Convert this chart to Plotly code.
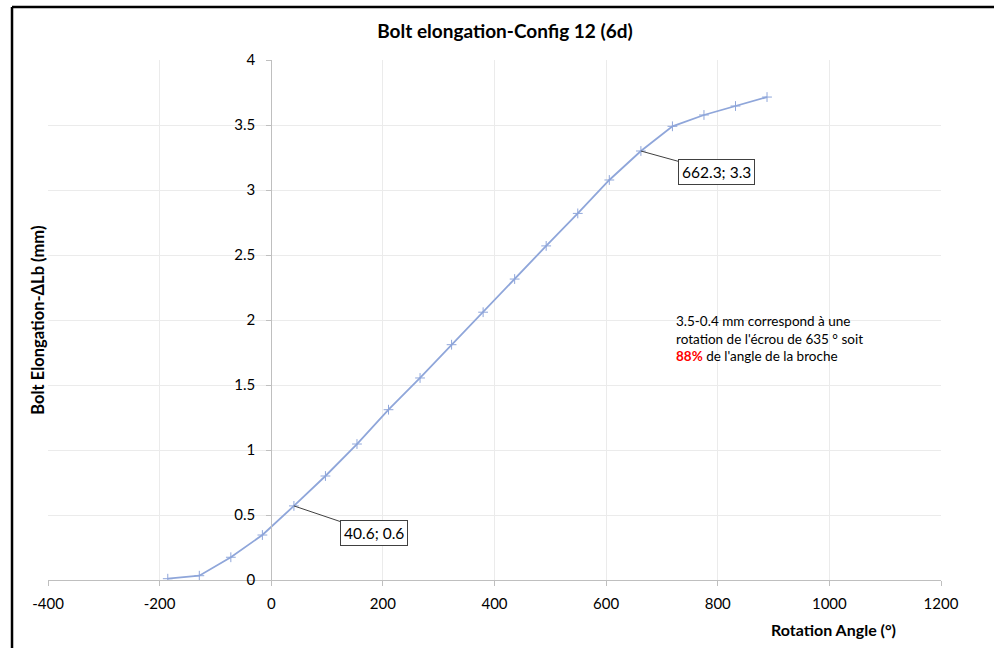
import plotly.graph_objects as go

# Data
rotation_angle = [-185.4, -128.9, -72.4, -15.9, 40.6, 97.1, 153.6, 210.1, 266.6, 323.1,
                  379.6, 436.1, 492.6, 549.2, 605.7, 662.3, 718.8, 775.3, 831.8, 888.3]
bolt_elongation = [0.01, 0.033, 0.175, 0.346, 0.57, 0.80, 1.046, 1.31, 1.554, 1.81,
                   2.06, 2.315, 2.57, 2.82, 3.077, 3.30, 3.49, 3.577, 3.646, 3.715]
x_ticks = [-400, -200, 0, 200, 400, 600, 800, 1000, 1200]
y_ticks = [0, 0.5, 1, 1.5, 2, 2.5, 3, 3.5, 4]
callouts = [(40.6, 0.57, "40.6; 0.6"), (662.3, 3.30, "662.3; 3.3")]

FONT = "Lato"
LINE_COLOR = "#8FA6DA"

fig = go.Figure()
fig.add_trace(go.Scatter(
    x=rotation_angle, y=bolt_elongation, mode="lines+markers",
    line=dict(color=LINE_COLOR, width=1.8),
    marker=dict(symbol="cross-thin-open", size=7, line=dict(color=LINE_COLOR, width=1)),
    showlegend=False, hoverinfo="x+y",
))

fig.update_layout(
    width=994, height=648,
    margin=dict(l=48, r=53, t=60, b=68),
    paper_bgcolor="white", plot_bgcolor="white",
    font=dict(family=FONT, size=15, color="#000000"),
    title=dict(text="<b>Bolt elongation-Config 12 (6d)</b>", x=0.508, xanchor="center",
               y=0.952, yanchor="middle", font=dict(family=FONT, size=19, color="#000000")),
)

fig.update_xaxes(
    range=[-400, 1200], tickvals=x_ticks, ticktext=[str(v) for v in x_ticks],
    showgrid=True, gridcolor="#EBEBEB", gridwidth=1, zeroline=False,
    showline=True, linecolor="#BFBFBF", linewidth=1,
    ticks="outside", ticklen=5, tickcolor="#BFBFBF", ticklabelstandoff=5,
    tickfont=dict(family=FONT, size=15, color="#000000"),
)
fig.update_yaxes(
    range=[0, 4], tickvals=y_ticks, ticktext=["0", "0.5", "1", "1.5", "2", "2.5", "3", "3.5", "4"],
    showgrid=True, gridcolor="#EBEBEB", gridwidth=1, zeroline=False,
    showline=True, linecolor="#BFBFBF", linewidth=1,
    anchor="free", position=0.25,
    ticks="outside", ticklen=5, tickcolor="#BFBFBF", ticklabelstandoff=8,
    tickfont=dict(family=FONT, size=15, color="#000000"),
)

# Callout labels
offsets = [(80, 27), (76, 21)]
for (cx, cy, txt), (ax, ay) in zip(callouts, offsets):
    fig.add_annotation(
        x=cx, y=cy, xref="x", yref="y", text=txt, showarrow=True,
        ax=ax, ay=ay, arrowhead=0, arrowwidth=1, arrowcolor="#404040",
        bordercolor="#404040", borderwidth=1, borderpad=3, bgcolor="white",
        font=dict(family=FONT, size=15.5, color="#000000"),
    )

# Text note
fig.add_annotation(
    x=721, y=1.86, xref="x", yref="y", xanchor="left", yanchor="middle", align="left",
    showarrow=False,
    text=("3.5-0.4 mm correspond à une<br>rotation de l'écrou de 635 ° soit<br>"
          "<span style='color:#FF0000'><b>88%</b></span> de l'angle de la broche"),
    font=dict(family=FONT, size=13.5, color="#000000"),
)

# Axis titles
fig.add_annotation(
    x=-0.0115, y=0.5, xref="paper", yref="paper", textangle=-90, showarrow=False,
    text="<b>Bolt Elongation-ΔLb (mm)</b>", font=dict(family=FONT, size=16.5, color="#000000"),
    xanchor="center", yanchor="middle",
)
fig.add_annotation(
    x=0.8795, y=-0.096, xref="paper", yref="paper", showarrow=False,
    text="<b>Rotation Angle (°)</b>", font=dict(family=FONT, size=16, color="#000000"),
    xanchor="center", yanchor="middle",
)

# Outer frame (left and top edges of the chart object)
fig.add_shape(type="line", xref="paper", yref="paper", x0=-0.0403, x1=-0.0403, y0=1.102, y1=-0.2,
              line=dict(color="black", width=2.5))
fig.add_shape(type="line", xref="paper", yref="paper", x0=-0.0403, x1=1.1, y0=1.102, y1=1.102,
              line=dict(color="black", width=2.5))

fig.write_html("out.html")
